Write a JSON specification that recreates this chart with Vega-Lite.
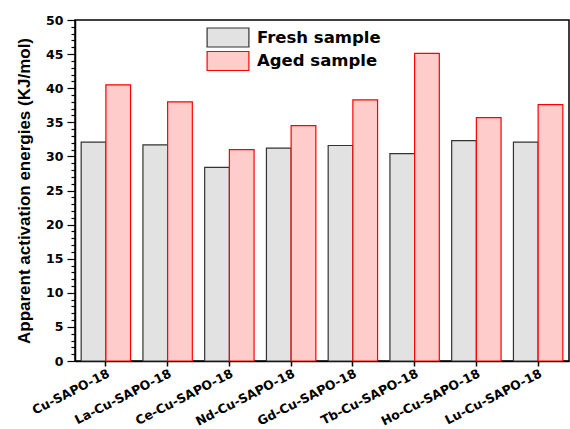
{
  "$schema": "https://vega.github.io/schema/vega-lite/v6.json",
  "autosize": "none",
  "width": 494,
  "height": 341,
  "padding": {"left": 75, "top": 20, "right": 1, "bottom": 68},
  "background": "white",
  "config": {
    "font": "DejaVu Sans",
    "view": {"stroke": "black", "strokeWidth": 1.5},
    "axis": {"labelFont": "DejaVu Sans", "titleFont": "Liberation Sans", "domainColor": "black", "tickColor": "black", "labelColor": "black", "titleColor": "black", "grid": false},
    "legend": {"labelFont": "DejaVu Sans"}
  },
  "data": {
    "values": [
      {"catalyst": "Cu-SAPO-18", "sample": "Fresh sample", "energy": 32.1},
      {"catalyst": "Cu-SAPO-18", "sample": "Aged sample", "energy": 40.5},
      {"catalyst": "La-Cu-SAPO-18", "sample": "Fresh sample", "energy": 31.7},
      {"catalyst": "La-Cu-SAPO-18", "sample": "Aged sample", "energy": 38.0},
      {"catalyst": "Ce-Cu-SAPO-18", "sample": "Fresh sample", "energy": 28.4},
      {"catalyst": "Ce-Cu-SAPO-18", "sample": "Aged sample", "energy": 31.0},
      {"catalyst": "Nd-Cu-SAPO-18", "sample": "Fresh sample", "energy": 31.2},
      {"catalyst": "Nd-Cu-SAPO-18", "sample": "Aged sample", "energy": 34.5},
      {"catalyst": "Gd-Cu-SAPO-18", "sample": "Fresh sample", "energy": 31.6},
      {"catalyst": "Gd-Cu-SAPO-18", "sample": "Aged sample", "energy": 38.3},
      {"catalyst": "Tb-Cu-SAPO-18", "sample": "Fresh sample", "energy": 30.4},
      {"catalyst": "Tb-Cu-SAPO-18", "sample": "Aged sample", "energy": 45.1},
      {"catalyst": "Ho-Cu-SAPO-18", "sample": "Fresh sample", "energy": 32.3},
      {"catalyst": "Ho-Cu-SAPO-18", "sample": "Aged sample", "energy": 35.7},
      {"catalyst": "Lu-Cu-SAPO-18", "sample": "Fresh sample", "energy": 32.1},
      {"catalyst": "Lu-Cu-SAPO-18", "sample": "Aged sample", "energy": 37.6}
    ]
  },
  "mark": {"type": "bar", "strokeWidth": 1.2},
  "encoding": {
    "x": {
      "field": "catalyst",
      "type": "nominal",
      "sort": null,
      "scale": {"paddingInner": 0.2, "paddingOuter": 0.1},
      "axis": {
        "title": null,
        "labelAngle": -27,
        "labelAlign": "right",
        "labelBaseline": "top",
        "labelFontSize": 12.5,
        "labelFontWeight": "bold",
        "labelPadding": 1,
        "labelOverlap": false,
        "tickSize": 5,
        "tickWidth": 1.5,
        "domainWidth": 1.5
      }
    },
    "xOffset": {"field": "sample", "type": "nominal", "sort": ["Fresh sample", "Aged sample"], "scale": {"paddingInner": 0, "paddingOuter": 0}},
    "y": {
      "field": "energy",
      "type": "quantitative",
      "scale": {"domain": [0, 50], "nice": false},
      "axis": {
        "title": "Apparent activation energies (KJ/mol)",
        "titleFontSize": 17,
        "titleFontWeight": "bold",
        "titlePadding": 12,
        "values": [0,1,2,3,4,5,6,7,8,9,10,11,12,13,14,15,16,17,18,19,20,21,22,23,24,25,26,27,28,29,30,31,32,33,34,35,36,37,38,39,40,41,42,43,44,45,46,47,48,49,50],
        "labelExpr": "datum.value % 5 === 0 ? datum.label : ''",
        "tickSize": {"condition": {"test": "datum.value % 5 === 0", "value": 8}, "value": 4},
        "tickWidth": 1.2,
        "labelFontSize": 12.5,
        "labelFontWeight": "bold",
        "labelPadding": 4,
        "domainWidth": 1.5
      }
    },
    "fill": {
      "field": "sample",
      "type": "nominal",
      "sort": ["Fresh sample", "Aged sample"],
      "scale": {"domain": ["Fresh sample", "Aged sample"], "range": ["#e2e2e2", "#ffcccc"]},
      "legend": {
        "title": null,
        "orient": "none",
        "legendX": 142.5,
        "legendY": 7,
        "symbolType": "M-2.2,-1h4.4v2h-4.4z",
        "symbolSize": 361,
        "symbolStrokeWidth": 1.2,
        "labelFontSize": 16.5,
        "labelFontWeight": "bold",
        "labelColor": "black",
        "labelOffset": 18.5,
        "rowPadding": -1.5,
        "symbolOpacity": 1
      }
    },
    "stroke": {
      "field": "sample",
      "type": "nominal",
      "sort": ["Fresh sample", "Aged sample"],
      "scale": {"domain": ["Fresh sample", "Aged sample"], "range": ["#333333", "#ff0000"]},
      "legend": null
    }
  }
}
